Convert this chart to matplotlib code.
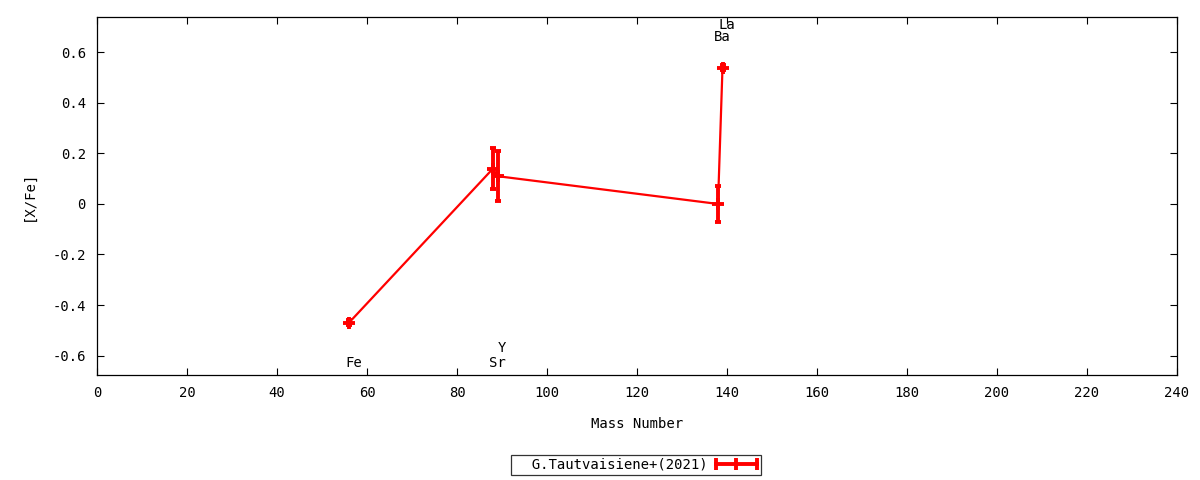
import matplotlib
matplotlib.use("Agg")
import matplotlib.pyplot as plt
from matplotlib.ticker import FuncFormatter
from matplotlib.legend_handler import HandlerBase
from matplotlib.lines import Line2D

elements = ["Fe", "Sr", "Y", "Ba", "La"]
mass = [56, 88, 89, 138, 139]
xfe = [-0.47, 0.14, 0.11, 0.00, 0.54]
err = [0.01, 0.08, 0.10, 0.07, 0.01]
label_x = [57, 89, 90, 139, 140]
label_y = [-0.63, -0.63, -0.57, 0.66, 0.71]
series_name = "G.Tautvaisiene+(2021)"

plt.rcParams['font.family'] = ['DejaVu Sans Mono']
plt.rcParams['font.size'] = 10

red = '#ff0000'


class HorizErrHandler(HandlerBase):
    def create_artists(self, legend, orig_handle, xdescent, ydescent,
                       width, height, fontsize, trans):
        y = height / 2 - ydescent
        x0, x1 = -xdescent, width - xdescent
        line = Line2D([x0, x1], [y, y], color=red, lw=2.8, transform=trans)
        caps = Line2D([x0, x1], [y, y], color=red, lw=0, marker='|',
                      markersize=8, mew=2.8, transform=trans)
        mid = Line2D([(x0 + x1) / 2], [y], color=red, lw=0, marker='|',
                     markersize=8, mew=2.8, transform=trans)
        return [line, caps, mid]


fig = plt.figure(figsize=(12, 4.8), dpi=100)
ax = fig.add_axes([97/1200, 105/480, 1080/1200, 358/480])

h = ax.errorbar(mass, xfe, yerr=err, color=red, lw=1.6, elinewidth=2.8,
                capsize=2.5, capthick=2.8, marker='+', markersize=8, mew=2.8,
                label=series_name)

for el, lx, ly in zip(elements, label_x, label_y):
    ax.text(lx, ly, el, ha='center', va='center', fontsize=10)

ax.set_xlim(0, 240)
ax.set_ylim(-0.677, 0.74)
ax.set_xticks(range(0, 241, 20))
ax.set_yticks([-0.6, -0.4, -0.2, 0, 0.2, 0.4, 0.6])
ax.yaxis.set_major_formatter(FuncFormatter(lambda v, p: "0" if abs(v) < 1e-9 else f"{v:.1f}"))
ax.tick_params(direction='in', top=True, right=True, length=5, width=0.8, pad=8)
for s in ax.spines.values():
    s.set_linewidth(0.9)
ax.set_xlabel("Mass Number", labelpad=12)
ax.set_ylabel("[X/Fe]", labelpad=12)

leg = fig.legend(handles=[h], labels=["  " + series_name], loc='center',
                 bbox_to_anchor=(636/1200, 1 - 465/480), markerfirst=False,
                 fancybox=False, frameon=True, handlelength=3.0,
                 borderpad=0.25, handletextpad=0.6, borderaxespad=0,
                 handler_map={type(h): HorizErrHandler()})
leg.get_frame().set_edgecolor('black')
leg.get_frame().set_linewidth(0.9)

fig.savefig("out.png", dpi=100)
